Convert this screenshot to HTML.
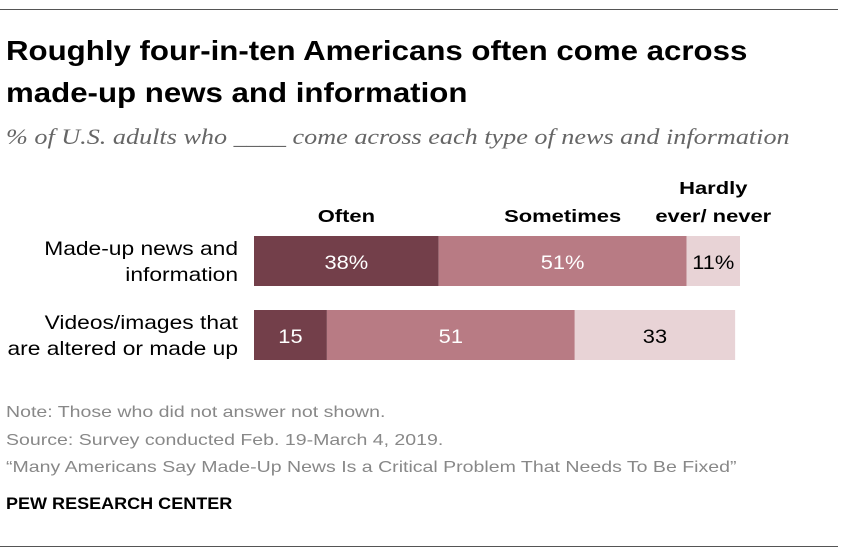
<!DOCTYPE html>
<html><head><meta charset="utf-8"><style>
body{margin:0;background:#fff;width:846px;height:558px;position:relative;overflow:hidden;font-family:"Liberation Sans",sans-serif}
.a{position:absolute;white-space:nowrap;transform-origin:0 0}
</style></head><body>
<div class="a" style="left:0;top:9px;width:838px;height:1px;background:#555"></div>
<div class="a" style="left:6px;top:30px;font-size:28px;font-weight:bold;line-height:42px;color:#000;transform:scaleX(1.115)">Roughly four-in-ten Americans often come across<br>made-up news and information</div>
<div class="a" style="left:6px;top:124px;font-family:'Liberation Serif',serif;font-style:italic;font-size:22px;color:#666;transform:scaleX(1.19)">% of U.S. adults who ____ come across each type of news and information</div>
<svg class="a" style="left:0;top:0" width="846" height="558" id="chart"></svg>
<div class="a" style="left:6px;top:399px;font-size:16px;color:#888;line-height:27.5px;transform:scaleX(1.22)">Note: Those who did not answer not shown.<br>Source: Survey conducted Feb. 19-March 4, 2019.<br>“Many Americans Say Made-Up News Is a Critical Problem That Needs To Be Fixed”</div>
<div class="a" style="left:6px;top:494px;font-size:17px;font-weight:bold;color:#000;transform:scaleX(1.06)">PEW RESEARCH CENTER</div>
<div class="a" style="left:0;top:546px;width:838px;height:1px;background:#555"></div>
<script>
const categories=["Made-up news and|information","Videos/images that|are altered or made up"];
const often=[38,15];
const sometimes=[51,51];
const hardly=[11,33];
const valueLabels=[["38%","51%","11%"],["15","51","33"]];
const seriesNames=["Often","Sometimes","Hardly|ever/ never"];
const NS="http://www.w3.org/2000/svg";
const svg=document.getElementById('chart');
const x0=254,scale=4.86,barTops=[236,310],barH=50;
const xs=v=>x0+v*scale;
const colors=["#733f4a","#b87b84","#e8d3d6"];
const txtCol=["#fff","#fff","#000"];
function t(x,y,s,sx,opt){const e=document.createElementNS(NS,'text');e.setAttribute('x',0);e.setAttribute('y',0);e.setAttribute('transform','translate('+x+','+y+') scale('+sx+',1)');e.setAttribute('font-family','Liberation Sans, sans-serif');for(const k in opt)e.setAttribute(k,opt[k]);e.textContent=s;svg.appendChild(e);return e;}
categories.forEach((c,i)=>{
  const vals=[often[i],sometimes[i],hardly[i]];let cum=0;
  const lines=c.split('|');
  lines.forEach((l,j)=>{const e=t(238,barTops[i]+19+j*26,l,1.2,{'font-size':19,'text-anchor':'end',fill:'#000'});
  
  });
  vals.forEach((v,k)=>{
    const r=document.createElementNS(NS,'rect');
    r.setAttribute('x',xs(cum));r.setAttribute('y',barTops[i]);r.setAttribute('width',v*scale);r.setAttribute('height',barH);r.setAttribute('fill',colors[k]);
    
    
    svg.appendChild(r);
    const e=t(xs(cum+v/2),barTops[i]+33,valueLabels[i][k],1.15,{'font-size':19,'text-anchor':'middle',fill:txtCol[k]});
    
    
    if(i===0){
      const nl=seriesNames[k].split('|');
      nl.forEach((l,j)=>{const h=t(xs(cum+v/2),222-(nl.length-1-j)*28,l,1.22,{'font-size':18,'font-weight':'bold','text-anchor':'middle',fill:'#000'});
      
      });
    }
    cum+=v;
  });
});
</script>
</body></html>
